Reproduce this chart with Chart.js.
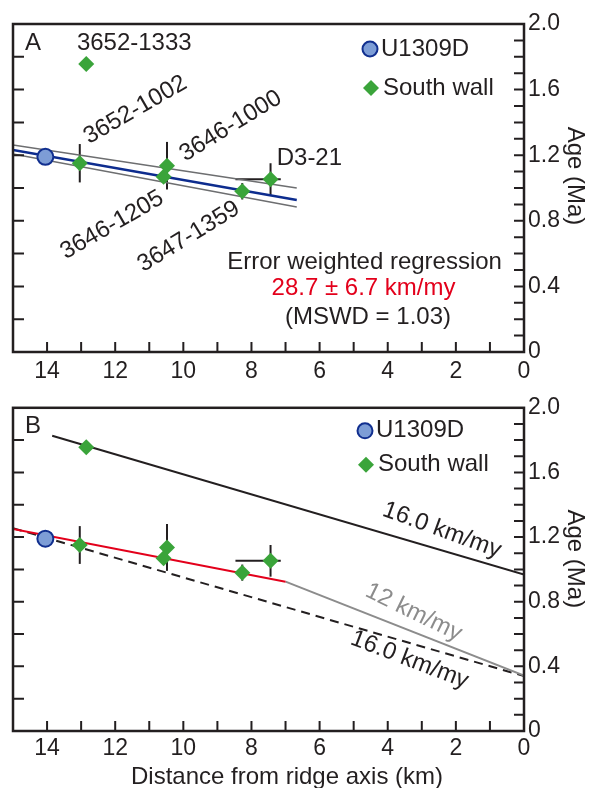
<!DOCTYPE html>
<html>
<head>
<meta charset="utf-8">
<script src="https://cdn.jsdelivr.net/npm/chart.js@4.4.0/dist/chart.umd.min.js"></script>
<style>
body { margin: 0; background: #fff; }
canvas { position: absolute; left: 0; }
#panelA { top: 0; }
#panelB { top: 390px; }
</style>
</head>
<body>
<canvas id="panelA" width="590" height="390"></canvas>
<canvas id="panelB" width="590" height="398"></canvas>
<script>
// ---- data ----
// U1309D drill hole
var holeDist = [14.05];
var holeAge = [1.19];

// south wall samples
var wallNames = ["3652-1333", "3652-1002", "3646-1000", "3646-1205", "3647-1359", "D3-21"];
var wallDist = [12.85, 13.04, 10.48, 10.58, 8.27, 7.44];
var wallAge = [1.756, 1.151, 1.136, 1.069, 0.98, 1.053];
var wallAgeErr = [0, 0.117, 0.145, 0, 0.05, 0.098];
var wallDistErrPlus = [0, 0, 0, 0, 0, 1.03];   // towards larger distance (left)
var wallDistErrMinus = [0, 0, 0, 0, 0, 0.30];

// panel A: error weighted regression and envelope
var regDist = [15, 6.67];
var regMid = [1.232, 0.927];
var regUpper = [1.262, 1.0];
var regLower = [1.207, 0.884];

// panel B: model lines
var fastDist = [13.85, 0];
var fastAge = [1.827, 0.968];
var redDist = [15, 7.0];
var redAge = [1.25, 0.924];
var slowDist = [7.0, 0];
var slowAge = [0.924, 0.343];
var dashDist = [15, 0];
var dashAge = [1.255, 0.34];

// text labels (positions in km / Ma)
var labelsA_text = ["3652-1333", "3652-1002", "3646-1000", "D3-21", "3646-1205", "3647-1359",
                    "Error weighted regression", "28.7 \u00b1 6.7 km/my", "(MSWD = 1.03)"];
var labelsA_dist = [11.44, 11.41, 8.61, 6.30, 12.09, 9.84, 4.68, 4.71, 4.58];
var labelsA_age = [1.884, 1.476, 1.378, 1.183, 0.774, 0.703, 0.549, 0.39, 0.213];
var labelsA_rot = [0, -30, -31.5, 0, -30, -31.5, 0, 0, 0];
var labelsA_color = ["#231f20", "#231f20", "#231f20", "#231f20", "#231f20", "#231f20", "#231f20", "#e3001b", "#231f20"];

var labelsB_text = ["16.0 km/my", "12 km/my", "16.0 km/my"];
var labelsB_dist = [2.41, 3.24, 3.36];
var labelsB_age = [1.242, 0.734, 0.44];
var labelsB_rot = [20, 26, 21];
var labelsB_color = ["#231f20", "#8c8c8c", "#231f20"];

var FONT = '"Liberation Sans", Arial, Helvetica, sans-serif';
var INK = "#231f20";

function pts(xs, ys) {
    var out = [];
    for (var i = 0; i < xs.length; i++) out.push({x: xs[i], y: ys[i]});
    return out;
}

function draw_text(ctx, txt, x, y, rot, color, align) {
    ctx.save();
    ctx.translate(x, y);
    ctx.rotate(rot * Math.PI / 180);
    ctx.fillStyle = color;
    ctx.font = "24px " + FONT;
    ctx.textAlign = align || "center";
    ctx.textBaseline = "middle";
    ctx.fillText(txt, 0, 0);
    ctx.restore();
}

var panels = {
    panelA: {
        letter: "A",
        legendY: [25, 64],
        legendX: 370,
        labels: [labelsA_text, labelsA_dist, labelsA_age, labelsA_rot, labelsA_color],
        ageTitleY: 152,
        xTitle: false
    },
    panelB: {
        letter: "B",
        legendY: [23, 57],
        legendX: 365,
        labels: [labelsB_text, labelsB_dist, labelsB_age, labelsB_rot, labelsB_color],
        ageTitleY: 151,
        xTitle: true
    }
};

var deko = {
    id: "deko",
    beforeDatasetsDraw: function(chart) {
        var ctx = chart.ctx, xs = chart.scales.x, ys = chart.scales.y;
        ctx.save();
        ctx.strokeStyle = INK;
        ctx.lineWidth = 2;
        for (var i = 0; i < wallDist.length; i++) {
            var px = xs.getPixelForValue(wallDist[i]);
            var py = ys.getPixelForValue(wallAge[i]);
            if (wallAgeErr[i] > 0) {
                ctx.beginPath();
                ctx.moveTo(px, ys.getPixelForValue(wallAge[i] - wallAgeErr[i]));
                ctx.lineTo(px, ys.getPixelForValue(wallAge[i] + wallAgeErr[i]));
                ctx.stroke();
            }
            if (wallDistErrPlus[i] > 0 || wallDistErrMinus[i] > 0) {
                ctx.beginPath();
                ctx.moveTo(xs.getPixelForValue(wallDist[i] + wallDistErrPlus[i]), py);
                ctx.lineTo(xs.getPixelForValue(wallDist[i] - wallDistErrMinus[i]), py);
                ctx.stroke();
            }
        }
        ctx.restore();
    },
    afterDraw: function(chart) {
        var ctx = chart.ctx, a = chart.chartArea, xs = chart.scales.x, ys = chart.scales.y;
        var info = panels[chart.canvas.id];
        ctx.save();
        // frame
        ctx.strokeStyle = INK;
        ctx.lineWidth = 2.5;
        ctx.strokeRect(a.left, a.top, a.right - a.left, a.bottom - a.top);
        // inward ticks
        ctx.lineWidth = 2;
        ctx.beginPath();
        for (var k = 1; k <= 14; k++) {
            var tx = xs.getPixelForValue(k);
            ctx.moveTo(tx, a.bottom);
            ctx.lineTo(tx, a.bottom - 10);
        }
        for (var j = 1; j <= 19; j++) {
            var ty = ys.getPixelForValue(j / 10);
            ctx.moveTo(a.right, ty);
            ctx.lineTo(a.right - 10, ty);
            if (j % 2 === 0) {
                ctx.moveTo(a.left, ty);
                ctx.lineTo(a.left + 11, ty);
            }
        }
        ctx.stroke();

        // panel letter
        draw_text(ctx, info.letter, a.left + 12, a.top + 19, 0, INK, "left");

        // legend
        var lx = info.legendX, ly1 = a.top + info.legendY[0], ly2 = a.top + info.legendY[1];
        ctx.beginPath();
        ctx.arc(lx, ly1, 7.5, 0, Math.PI * 2);
        ctx.fillStyle = "#7d9dd6";
        ctx.fill();
        ctx.strokeStyle = "#112f8f";
        ctx.lineWidth = 2;
        ctx.stroke();
        ctx.beginPath();
        ctx.moveTo(lx + 1, ly2 - 8);
        ctx.lineTo(lx + 9, ly2);
        ctx.lineTo(lx + 1, ly2 + 8);
        ctx.lineTo(lx - 7, ly2);
        ctx.closePath();
        ctx.fillStyle = "#3aa43a";
        ctx.fill();
        draw_text(ctx, "U1309D", lx + 11, ly1, 0, INK, "left");
        draw_text(ctx, "South wall", lx + 13, ly2, 0, INK, "left");

        // annotations
        var L = info.labels;
        for (var n = 0; n < L[0].length; n++) {
            draw_text(ctx, L[0][n], xs.getPixelForValue(L[1][n]), ys.getPixelForValue(L[2][n]), L[3][n], L[4][n]);
        }

        // axis titles
        draw_text(ctx, "Age (Ma)", 575, a.top + info.ageTitleY, 90, INK);
        if (info.xTitle) {
            draw_text(ctx, "Distance from ridge axis (km)", 287, 387, 0, INK);
        }
        ctx.restore();
    }
};

function make_panel(id, datasets, labelPad, xAxisH, topPad) {
    return new Chart(document.getElementById(id), {
        type: "scatter",
        data: { datasets: datasets },
        options: {
            responsive: false,
            animation: false,
            events: [],
            layout: { padding: { left: 13, top: topPad, right: 0, bottom: 0 } },
            plugins: { legend: { display: false }, tooltip: { enabled: false } },
            scales: {
                x: {
                    type: "linear", reverse: true, min: 0, max: 15,
                    grid: { display: false, drawTicks: false },
                    border: { display: false },
                    ticks: {
                        stepSize: 1, autoSkip: false, maxRotation: 0, padding: labelPad,
                        color: INK, font: { size: 23, family: FONT },
                        callback: function(v) { return v % 2 === 0 ? String(v) : ""; }
                    },
                    afterFit: function(s) { s.height = xAxisH; }
                },
                y: {
                    type: "linear", position: "right", min: 0, max: 2,
                    grid: { display: false, drawTicks: false },
                    border: { display: false },
                    ticks: {
                        stepSize: 0.1, autoSkip: false, padding: 4,
                        color: INK, font: { size: 23, family: FONT },
                        callback: function(v) {
                            var t = Math.round(v * 10);
                            if (t % 4 !== 0) return "";
                            return t === 0 ? "0" : (t / 10).toFixed(1);
                        }
                    },
                    afterFit: function(s) { s.width = 66; }
                }
            }
        },
        plugins: [deko]
    });
}

function line_set(xs, ys, color, width, dash) {
    return {
        data: pts(xs, ys), showLine: true, borderColor: color, borderWidth: width,
        borderDash: dash || [], pointRadius: 0, pointHoverRadius: 0
    };
}

var holeSet = {
    label: "U1309D", data: pts(holeDist, holeAge),
    pointStyle: "circle", pointRadius: 8, pointHoverRadius: 8,
    pointBackgroundColor: "#7d9dd6", pointBorderColor: "#112f8f", pointBorderWidth: 2
};
var wallSet = {
    label: "South wall", data: pts(wallDist, wallAge),
    pointStyle: "rectRot", pointRadius: 8, pointHoverRadius: 8,
    pointBackgroundColor: "#3aa43a", pointBorderColor: "#3aa43a", pointBorderWidth: 0
};

make_panel("panelA", [
    holeSet,
    wallSet,
    line_set(regDist, regMid, "#0d2c8e", 2.5),
    line_set(regDist, regUpper, "#6d6e70", 1.6),
    line_set(regDist, regLower, "#6d6e70", 1.6)
], 6, 38, 24);

make_panel("panelB", [
    Object.assign({}, holeSet, { data: pts(holeDist, holeAge) }),
    Object.assign({}, wallSet, { data: pts(wallDist, wallAge) }),
    line_set(fastDist, fastAge, INK, 2),
    line_set(redDist, redAge, "#e3001b", 2),
    line_set(slowDist, slowAge, "#8c8c8c", 2),
    line_set(dashDist, dashAge, INK, 2, [9, 6])
], 4, 57, 14);
</script>
</body>
</html>
